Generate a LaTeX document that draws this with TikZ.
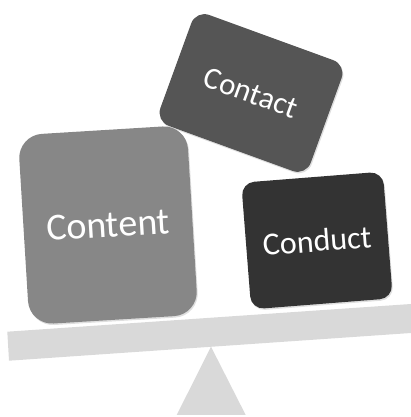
\documentclass[tikz,border=0pt]{standalone}
\usepackage{fontspec}
\setmainfont{Carlito}
\usetikzlibrary{shadows}
\definecolor{beamgray}{HTML}{D9D9D9}
\definecolor{contentgray}{HTML}{878787}
\definecolor{contactgray}{HTML}{555555}
\definecolor{conductgray}{HTML}{333333}
\tikzset{
  card/.style={rectangle, inner sep=0pt, text=white,
    drop shadow={opacity=0.25, shadow xshift=1pt, shadow yshift=-1.5pt}},
}
\begin{document}
\begin{tikzpicture}[x=1pt,y=1pt]
\useasboundingbox (0,0) rectangle (411,417);
% beam and fulcrum
\fill[beamgray] (211,70.3) -- (176.7,2) -- (245.7,2) -- cycle;
\fill[beamgray] (7.3,85.3) -- (9,56.3) -- (411,84) -- (411,113) -- cycle;
% cards
\node[card, fill=contactgray, rounded corners=14pt, minimum width=160pt, minimum height=118pt, rotate=-20,
  font=\fontsize{31}{36}\selectfont] (contact) at (251,324) {Contact};
\node[card, fill=conductgray, rounded corners=13pt, minimum width=142pt, minimum height=127pt, rotate=4.5,
  font=\fontsize{32}{38}\selectfont] (conduct) at (317,176.5) {Conduct};
\node[card, fill=contentgray, rounded corners=24pt, minimum width=169pt, minimum height=190pt, rotate=3.5,
  font=\fontsize{38}{44}\selectfont] (content) at (108,192) {Content};
\end{tikzpicture}
\end{document}
